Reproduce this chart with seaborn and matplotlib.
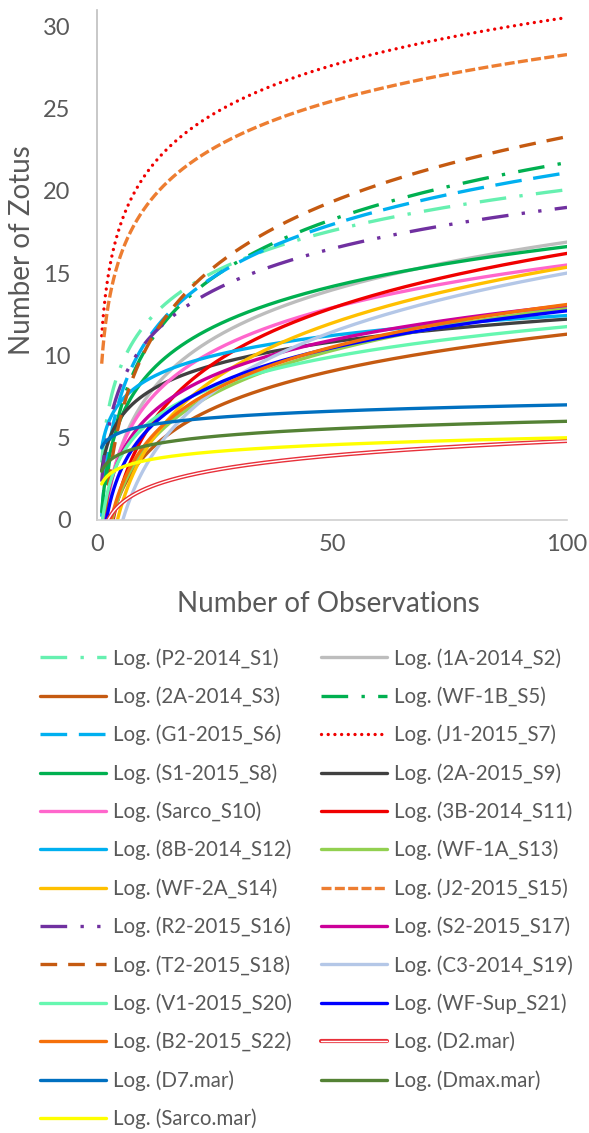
import numpy as np
import pandas as pd
import matplotlib
matplotlib.use("Agg")
import matplotlib.pyplot as plt
from matplotlib.lines import Line2D
import seaborn as sns

# ---- data: logarithmic trendlines y = slope * ln(x) + intercept
labels = ["Log. (P2-2014_S1)", "Log. (1A-2014_S2)", "Log. (2A-2014_S3)", "Log. (WF-1B_S5)",
          "Log. (G1-2015_S6)", "Log. (J1-2015_S7)", "Log. (S1-2015_S8)", "Log. (2A-2015_S9)",
          "Log. (Sarco_S10)", "Log. (3B-2014_S11)", "Log. (8B-2014_S12)", "Log. (WF-1A_S13)",
          "Log. (WF-2A_S14)", "Log. (J2-2015_S15)", "Log. (R2-2015_S16)", "Log. (S2-2015_S17)",
          "Log. (T2-2015_S18)", "Log. (C3-2014_S19)", "Log. (V1-2015_S20)", "Log. (WF-Sup_S21)",
          "Log. (B2-2015_S22)", "Log. (D2.mar)", "Log. (D7.mar)", "Log. (Dmax.mar)",
          "Log. (Sarco.mar)"]
slopes = [3.6, 4.2, 3.23, 5.0, 4.54, 4.2, 3.5, 2.0, 3.75, 4.8, 1.75, 3.75, 4.9, 4.08, 3.62,
          3.05, 5.7, 5.17, 2.65, 3.25, 3.735, 1.28, 0.56, 0.66, 0.61]
intercepts = [3.5, -2.45, -3.58, -1.3, 0.2, 11.2, 0.5, 3.0, -1.77, -5.9, 4.37, -4.37, -7.2, 9.5,
              2.33, -1.0, -2.95, -8.8, -0.45, -2.25, -4.1, -1.09, 4.42, 2.96, 2.19]
x_first, x_last = 1, 100

colors = ["#66F0B0", "#BDBDBD", "#C55A11", "#00B050", "#00B0F0", "#F00000", "#00B050", "#404040",
          "#FF66CC", "#F00000", "#00B0F0", "#92D050", "#FFC000", "#ED7D31", "#7030A0", "#CC0099",
          "#C55A11", "#B4C7E7", "#66F7B0", "#0000FF", "#F5700A", "#E8303A", "#0070C0", "#548235",
          "#FFFF00"]
styles = [(0, (8, 4, 1, 4)), "-", "-", (0, (8, 4, 1, 4)), (0, (8, 3.5)), (0, (0.01, 2.0)), "-", "-",
          "-", "-", "-", "-", "-", (0, (3, 1)), (0, (8, 4, 1, 4, 1, 4)), "-",
          (0, (5, 3.3)), "-", "-", "-", "-", "-", "-", "-", "-"]

rows = []
xs = np.geomspace(x_first, x_last, 500)
for lab, a, b in zip(labels, slopes, intercepts):
    for xv in xs:
        rows.append((lab, xv, a * np.log(xv) + b))
df = pd.DataFrame(rows, columns=["series", "x", "y"])

sns.set_theme(style="white")
plt.rcParams["font.family"] = ["Lato", "DejaVu Sans"]

fig = plt.figure(figsize=(5.89, 11.33), dpi=100)
ax = fig.add_axes([97 / 589, 1 - 520 / 1133, 470 / 589, 510 / 1133])

LW = 2.4
handles = []
for i, lab in enumerate(labels):
    sub = df[df["series"] == lab]
    if lab == "Log. (D2.mar)":
        sns.lineplot(data=sub, x="x", y="y", color=colors[i], lw=3.0, ax=ax,
                     legend=False, errorbar=None, sort=False)
        sns.lineplot(data=sub, x="x", y="y", color="white", lw=1.0, ax=ax,
                     legend=False, errorbar=None, sort=False)
        handles.append((Line2D([], [], color=colors[i], lw=3.0),
                        Line2D([], [], color="white", lw=1.0)))
        continue
    ls = styles[i]
    kw = {}
    if lab == "Log. (J1-2015_S7)":
        kw["dash_capstyle"] = "round"
    sns.lineplot(data=sub, x="x", y="y", color=colors[i], lw=LW, linestyle=ls, ax=ax,
                 legend=False, errorbar=None, sort=False, **kw)
    handles.append(Line2D([], [], color=colors[i], lw=LW, linestyle=ls, **kw))

ax.set_xlim(0, 100)
ax.set_ylim(0, 31)
ax.set_xticks([0, 50, 100])
ax.set_yticks([0, 5, 10, 15, 20, 25, 30])
ax.set_xlabel("")
ax.set_ylabel("")
ax.tick_params(axis="both", length=0, labelsize=17, labelcolor="#595959")
ax.tick_params(axis="y", pad=19)
ax.tick_params(axis="x", pad=10)
for s in ["top", "right"]:
    ax.spines[s].set_visible(False)
ax.spines["left"].set_color("#BFBFBF")
ax.spines["bottom"].set_color("#D0D0D0")
ax.spines["left"].set_linewidth(1.2)
ax.spines["bottom"].set_linewidth(1.2)
ax.grid(False)

fig.text(328 / 589, 1 - 604 / 1133, "Number of Observations", ha="center", va="center",
         fontsize=20, color="#595959")
fig.text(22 / 589, 1 - 250 / 1133, "Number of Zotus", ha="center", va="center",
         rotation=90, fontsize=20, color="#595959")

order = list(range(0, 25, 2)) + list(range(1, 25, 2))
leg = fig.legend([handles[i] for i in order], [labels[i] for i in order], ncol=2,
                 loc="upper left", bbox_to_anchor=(40 / 589, 1 - 648 / 1133),
                 frameon=False, fontsize=14.8, handlelength=3.2, handletextpad=0.34,
                 columnspacing=1.45, labelspacing=0.865, borderpad=0, borderaxespad=0)
for t in leg.get_texts():
    t.set_color("#595959")

fig.savefig("out.png", dpi=100, facecolor="white")
